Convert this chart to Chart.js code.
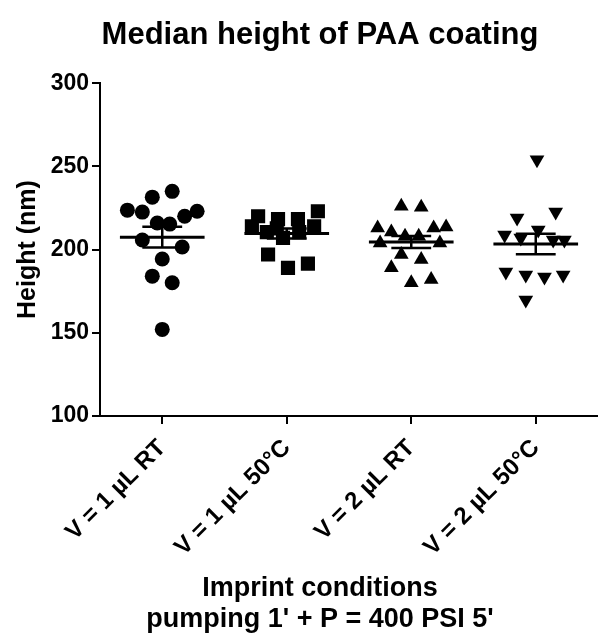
<!DOCTYPE html>
<html>
<head>
<meta charset="utf-8">
<script src="https://cdn.jsdelivr.net/npm/chart.js@4/dist/chart.umd.min.js"></script>
<style>
  html, body { margin: 0; padding: 0; background: #fff; }
  #wrap { width: 598px; height: 635px; }
</style>
</head>
<body>
<div id="wrap"><canvas id="dotChart"></canvas></div>
<script>
// Categories (x ticks) and y ticks
const categories = ["V = 1 \u00b5L RT", "V = 1 \u00b5L 50\u00b0C", "V = 2 \u00b5L RT", "V = 2 \u00b5L 50\u00b0C"];
const yTicks = [100, 150, 200, 250, 300];

const heights1 = [223.7, 222.5, 231.5, 235, 216, 215.3, 220, 223, 205.7, 201.5, 194.3, 184, 180, 152];
const spread1 = [-0.28, -0.16, -0.08, 0.08, -0.04, 0.06, 0.18, 0.28, -0.16, 0.16, 0, -0.08, 0.08, 0];

const heights2 = [220, 218.3, 218.3, 223, 197, 189, 191.5, 214, 210.5, 207, 210.5, 214, 212.7];
const spread2 = [-0.23, -0.07, 0.09, 0.25, -0.15, 0.01, 0.17, -0.28, -0.16, -0.03, 0.1, 0.22, -0.08];

const heights3 = [226, 225.5, 213, 210.5, 213, 213.5, 204, 204, 208, 208, 197, 194, 189, 180, 182];
const spread3 = [-0.08, 0.08, -0.27, -0.16, 0.18, 0.28, -0.25, 0.23, -0.05, 0.06, -0.08, 0.08, -0.16, 0, 0.16];

const heights4 = [254, 219, 222.5, 208.7, 207, 211.7, 205.7, 186.5, 184.7, 183.5, 184.7, 169.7, 205.7];
const spread4 = [0.01, -0.15, 0.16, -0.25, -0.12, 0.02, 0.14, -0.24, -0.08, 0.07, 0.22, -0.08, 0.23];

const groups = [
    { heights: heights1, spread: spread1, style: "circle", radius: 7.5, rotation: 0 },
    { heights: heights2, spread: spread2, style: "rect", radius: 10, rotation: 0 },
    { heights: heights3, spread: spread3, style: "triangle", radius: 8.5, rotation: 0 },
    { heights: heights4, spread: spread4, style: "triangle", radius: 8.5, rotation: 180 }
];

const fontFamily = "Arial, 'Liberation Sans', Helvetica, sans-serif";

const datasets = groups.map(function(g, i) {
    return {
        data: g.heights.map(function(h, j) { return { x: i + 1 + g.spread[j], y: h }; }),
        pointStyle: g.style,
        pointRadius: g.radius,
        pointRotation: g.rotation,
        pointBackgroundColor: "#000",
        pointBorderColor: "#000",
        pointBorderWidth: 0,
        showLine: false
    };
});

// mean line with SEM whiskers for each column
const meanSemPlugin = {
    id: "meanSem",
    afterDatasetsDraw(chart) {
        const ctx = chart.ctx;
        const xs = chart.scales.x;
        const ys = chart.scales.y;
        ctx.save();
        ctx.strokeStyle = "#000";
        groups.forEach(function(g, i) {
            const n = g.heights.length;
            const mean = g.heights.reduce(function(a, b) { return a + b; }, 0) / n;
            const sd = Math.sqrt(g.heights.reduce(function(a, b) { return a + (b - mean) * (b - mean); }, 0) / (n - 1));
            const sem = sd / Math.sqrt(n);
            const cx = xs.getPixelForValue(i + 1);
            const yMean = ys.getPixelForValue(mean);
            const yTop = ys.getPixelForValue(mean + sem);
            const yBot = ys.getPixelForValue(mean - sem);
            const halfMean = xs.getPixelForValue(i + 1.34) - cx;
            const halfCap = xs.getPixelForValue(i + 1.16) - cx;

            ctx.lineWidth = 3;
            ctx.beginPath();
            ctx.moveTo(cx - halfMean, yMean);
            ctx.lineTo(cx + halfMean, yMean);
            ctx.stroke();

            ctx.lineWidth = 2.5;
            ctx.beginPath();
            ctx.moveTo(cx, yTop);
            ctx.lineTo(cx, yBot);
            ctx.moveTo(cx - halfCap, yTop);
            ctx.lineTo(cx + halfCap, yTop);
            ctx.moveTo(cx - halfCap, yBot);
            ctx.lineTo(cx + halfCap, yBot);
            ctx.stroke();
        });
        ctx.restore();
    }
};

const ctx = document.getElementById("dotChart").getContext("2d");
const chart = new Chart(ctx, {
    type: "scatter",
    data: { datasets: datasets },
    plugins: [meanSemPlugin],
    options: {
        responsive: true,
        maintainAspectRatio: false,
        animation: false,
        // left padding shifts the centred titles a bit to the right, like the original
        layout: { autoPadding: false, padding: { left: 42, right: 0, top: 0, bottom: 0 } },
        plugins: {
            legend: { display: false },
            tooltip: { enabled: false },
            title: {
                display: true,
                text: "Median height of PAA coating",
                color: "#000",
                font: { family: fontFamily, size: 31, weight: "bold" },
                padding: { top: 17, bottom: 29 }
            },
            subtitle: {
                display: true,
                position: "bottom",
                text: ["Imprint conditions", "pumping 1' + P = 400 PSI 5'"],
                color: "#000",
                font: { family: fontFamily, size: 27, weight: "bold", lineHeight: 1.15 },
                padding: { top: 0, bottom: 0 }
            }
        },
        scales: {
            x: {
                type: "linear",
                min: 0.5,
                max: 4.5,
                afterBuildTicks(scale) {
                    scale.ticks = categories.map(function(c, i) { return { value: i + 1 }; });
                },
                afterFit(scale) {
                    scale.height = 157;
                    scale.paddingLeft = 0;
                    scale.paddingRight = 0;
                },
                ticks: {
                    color: "#000",
                    font: { family: fontFamily, size: 24, weight: "bold" },
                    maxRotation: 45,
                    minRotation: 45,
                    padding: 10,
                    callback: function(value) { return categories[Math.round(value) - 1]; }
                },
                grid: { display: true, drawOnChartArea: false, drawTicks: true, tickLength: 8, color: "#000", lineWidth: 2 },
                border: { display: true, color: "#000", width: 2 }
            },
            y: {
                min: 100,
                max: 300,
                afterBuildTicks(scale) {
                    scale.ticks = yTicks.map(function(v) { return { value: v }; });
                },
                afterFit(scale) { scale.width = 58; },
                ticks: {
                    color: "#000",
                    font: { family: fontFamily, size: 23, weight: "bold" },
                    padding: 3
                },
                grid: { display: true, drawOnChartArea: false, drawTicks: true, tickLength: 8, color: "#000", lineWidth: 2 },
                border: { display: true, color: "#000", width: 2 },
                title: {
                    display: true,
                    text: "Height (nm)",
                    color: "#000",
                    font: { family: fontFamily, size: 25, weight: "bold" },
                    padding: { top: -29, bottom: 0 }
                }
            }
        }
    }
});
</script>
</body>
</html>
